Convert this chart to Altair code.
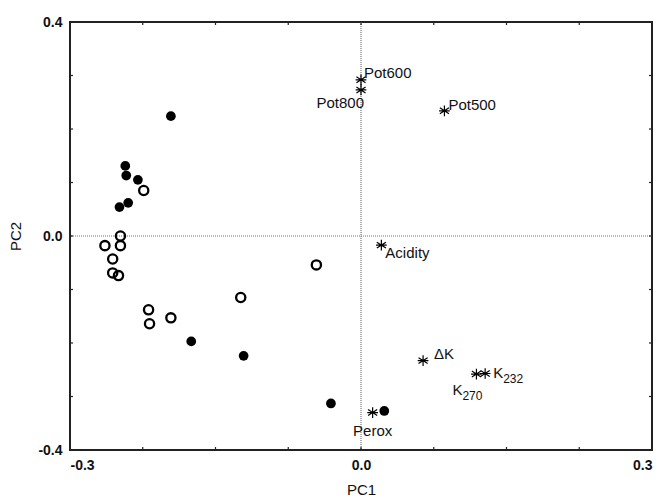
import altair as alt
import pandas as pd

# --- data ---
filled_pc1 = [-0.196, -0.243, -0.242, -0.230, -0.249, -0.240, -0.175, -0.121, -0.031, 0.024]
filled_pc2 = [0.224, 0.131, 0.113, 0.105, 0.054, 0.062, -0.197, -0.224, -0.313, -0.327]

open_pc1 = [-0.224, -0.248, -0.264, -0.248, -0.256, -0.256, -0.250, -0.124, -0.219, -0.218, -0.196, -0.046]
open_pc2 = [0.085, 0.000, -0.018, -0.018, -0.043, -0.069, -0.074, -0.115, -0.138, -0.164, -0.153, -0.054]

var_names = ["Pot600", "Pot800", "Pot500", "Acidity", "ΔK", "K232", "K270", "Perox"]
var_main = ["Pot600", "Pot800", "Pot500", "Acidity", "ΔK", "K", "K", "Perox"]
var_sub = ["", "", "", "", "", "232", "270", ""]
var_pc1 = [0.000, 0.000, 0.086, 0.021, 0.064, 0.128, 0.119, 0.012]
var_pc2 = [0.292, 0.273, 0.234, -0.017, -0.233, -0.257, -0.258, -0.330]

x_ticks = [-0.3, -0.225, -0.15, -0.075, 0.0, 0.075, 0.15, 0.225, 0.3]
y_ticks = [-0.4, -0.3, -0.2, -0.1, 0.0, 0.1, 0.2, 0.3, 0.4]
x_labels = [-0.3, 0.0, 0.3]
y_labels = [-0.4, 0.0, 0.4]

W, H = 582, 428
FONT = "Liberation Sans"
TK = 3

xs = alt.Scale(domain=[-0.3, 0.3], nice=False, zero=False)
ys = alt.Scale(domain=[-0.4, 0.4], nice=False, zero=False)

axis_common = dict(format=".1f", ticks=False, domain=False, grid=False,
                   labelExpr="replace(datum.label, '\u2212', '-')",
                   labelFont=FONT, labelFontSize=14, labelFontWeight="bold",
                   labelColor="#111", labelPadding=8,
                   titleFont=FONT, titleFontSize=15, titleFontWeight="normal",
                   titleColor="#111")
xaxis = alt.Axis(values=x_labels, titlePadding=10, **axis_common)
yaxis = alt.Axis(values=y_labels, titlePadding=14, **axis_common)

filled_df = pd.DataFrame({"pc1": filled_pc1, "pc2": filled_pc2})
open_df = pd.DataFrame({"pc1": open_pc1, "pc2": open_pc2})
var_df = pd.DataFrame({"name": var_names, "main": var_main, "sub": var_sub,
                       "pc1": var_pc1, "pc2": var_pc2})
xt_df = pd.DataFrame({"pc1": x_ticks})
yt_df = pd.DataFrame({"pc2": y_ticks})
zero_df = pd.DataFrame({"pc1": [0.0], "pc2": [0.0]})


def X():
    return alt.X("pc1:Q", scale=xs, axis=xaxis, title="PC1")


def Y():
    return alt.Y("pc2:Q", scale=ys, axis=yaxis, title="PC2")


tick_style = dict(color="#222", strokeWidth=1.2)
ticks_bottom = alt.Chart(xt_df).mark_rule(**tick_style).encode(
    x=X(), y=alt.value(H), y2=alt.value(H - TK))
ticks_top = alt.Chart(xt_df).mark_rule(**tick_style).encode(
    x=X(), y=alt.value(0), y2=alt.value(TK))
ticks_left = alt.Chart(yt_df).mark_rule(**tick_style).encode(
    y=Y(), x=alt.value(0), x2=alt.value(TK))
ticks_right = alt.Chart(yt_df).mark_rule(**tick_style).encode(
    y=Y(), x=alt.value(W - TK), x2=alt.value(W))

zero_v = alt.Chart(zero_df).mark_rule(color="#777", strokeDash=[1, 1], strokeWidth=1.2).encode(x=X())
zero_h = alt.Chart(zero_df).mark_rule(color="#777", strokeDash=[1, 1], strokeWidth=1.2).encode(y=Y())

filled_pts = alt.Chart(filled_df).mark_point(
    shape="circle", filled=True, color="#000", size=95, opacity=1).encode(x=X(), y=Y())
open_pts = alt.Chart(open_df).mark_point(
    shape="circle", filled=False, color="#000", size=85, strokeWidth=2.3, opacity=1).encode(x=X(), y=Y())

STAR = "M0,-1L0,1M-0.85,-0.55L0.85,0.55M-0.85,0.55L0.85,-0.55M-1,0L1,0"
stars = alt.Chart(var_df).mark_point(
    shape=STAR, filled=False, color="#000", size=115, strokeWidth=1.2, opacity=1).encode(x=X(), y=Y())

# label placement (style, not data)
place = {
    "Pot600": dict(dx=3, dy=-7, align="left"),
    "Pot800": dict(dx=3, dy=13, align="right"),
    "Pot500": dict(dx=4, dy=-6, align="left"),
    "Acidity": dict(dx=4, dy=8, align="left"),
    "ΔK": dict(dx=11, dy=-7, align="left"),
    "K232": dict(dx=8, dy=0, align="left"),
    "K270": dict(dx=-24, dy=16, align="left"),
    "Perox": dict(dx=0, dy=18, align="center"),
}

label_layers = []
for name, p in place.items():
    label_layers.append(
        alt.Chart(var_df).transform_filter(alt.datum.name == name).mark_text(
            font=FONT, fontSize=15, color="#111", baseline="middle", **p
        ).encode(x=X(), y=Y(), text="main:N")
    )
    if name in ("K232", "K270"):
        label_layers.append(
            alt.Chart(var_df).transform_filter(alt.datum.name == name).mark_text(
                font=FONT, fontSize=12, color="#111", baseline="middle",
                dx=p["dx"] + 10, dy=p["dy"] + 6, align="left"
            ).encode(x=X(), y=Y(), text="sub:N")
        )

chart = alt.layer(
    zero_v, zero_h, ticks_bottom, ticks_top, ticks_left, ticks_right,
    open_pts, filled_pts, stars, *label_layers
).properties(
    width=W, height=H,
    autosize=alt.AutoSizeParams(type="none"),
    padding={"left": 70, "top": 22, "right": 11, "bottom": 52},
    background="white",
).configure_view(stroke="#222", strokeWidth=2)

chart.save("out.html", embed_options={"renderer": "svg", "actions": False})
